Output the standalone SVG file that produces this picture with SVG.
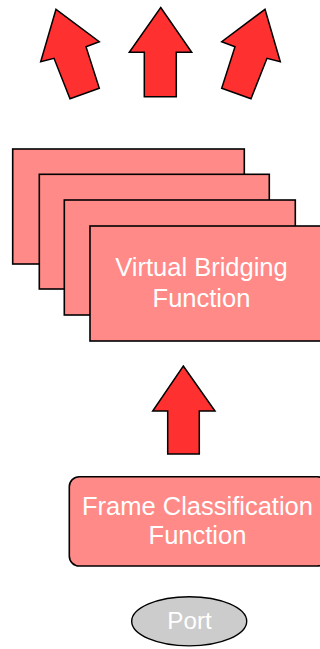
<svg xmlns="http://www.w3.org/2000/svg" width="320" height="649" viewBox="0 0 320 649">
<style>
.arrow{fill:#FF3030;stroke:#000;stroke-width:1.5;stroke-linejoin:miter}
.box{fill:#FF8A87;stroke:#000;stroke-width:1.6}
.lbl{font-family:"Liberation Sans",Arial,sans-serif;font-size:25.5px;fill:#fff;text-anchor:middle}
.port{fill:#CCCCCC;stroke:#000;stroke-width:1.4}
</style>
<g id="connectors">
<polygon class="arrow" points="56,9.3 99.3,41.7 86,46.7 99.3,88.3 70,98.7 54,58.3 40.7,61.7"/>
<polygon class="arrow" points="160.7,7.5 191.7,52.3 176.3,52.3 176.3,96.7 144.3,96.7 144.3,52.3 129.3,52.3"/>
<polygon class="arrow" points="265,9.3 280.3,61.7 267,58.3 251,98.7 221.7,88.3 235,46.7 221.7,41.7"/>
<polygon class="arrow" points="183.3,366 215,411 199.3,411 199.3,454 167.7,454 167.7,411 152.7,411"/>
</g>
<g id="vbf-stack-1"><rect class="box" x="12.7" y="149" width="231.6" height="115"/></g>
<g id="vbf-stack-2"><rect class="box" x="39.3" y="174.3" width="230" height="114.7"/></g>
<g id="vbf-stack-3"><rect class="box" x="64.3" y="200" width="231" height="115"/></g>
<g id="vbf">
<rect class="box" x="90" y="226" width="232" height="115"/>
<text class="lbl" x="201.5" y="276">Virtual Bridging</text>
<text class="lbl" x="201.5" y="306.5">Function</text>
</g>
<g id="fcf">
<rect class="box" x="69.3" y="476.7" width="258" height="89.3" rx="10" ry="10"/>
<text class="lbl" x="197.5" y="515">Frame Classification</text>
<text class="lbl" x="197.5" y="544">Function</text>
</g>
<g id="port">
<ellipse class="port" cx="189.2" cy="621.3" rx="57.5" ry="24.6"/>
<text class="lbl" x="189.5" y="629.3" style="font-size:24.2px">Port</text>
</g>
</svg>
